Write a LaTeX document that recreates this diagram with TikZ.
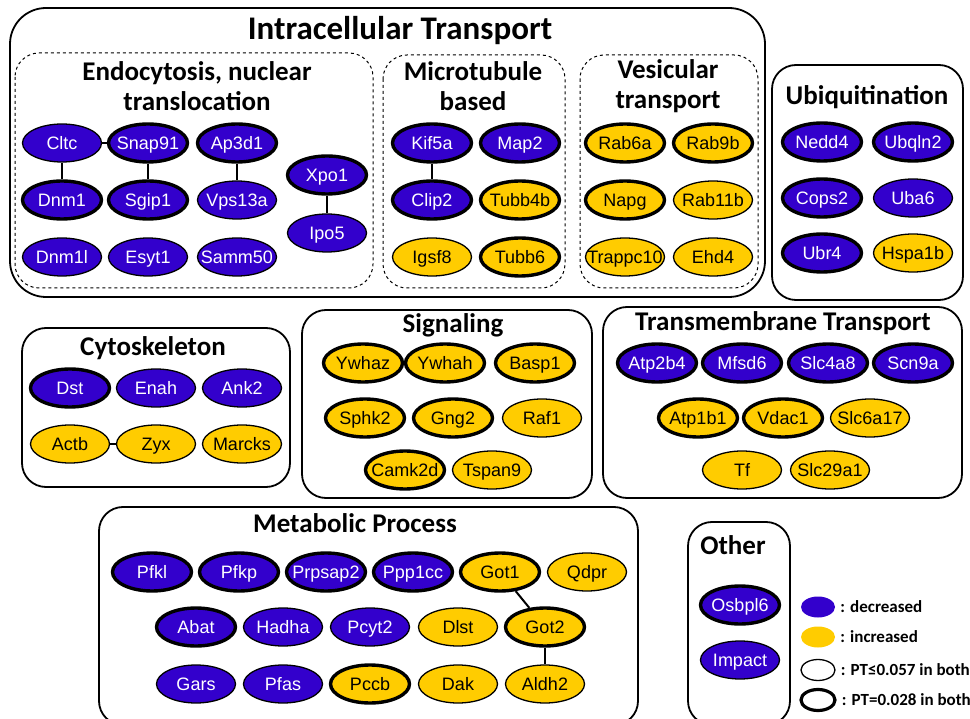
\documentclass[tikz,border=0pt]{standalone}
\usepackage{fontspec}
\setmainfont{Liberation Sans}
\newfontfamily\headfont{Carlito}
\usetikzlibrary{shapes.geometric}

\definecolor{decblue}{RGB}{51,0,204}
\definecolor{incgold}{RGB}{255,204,0}

\tikzset{
  gene/.style={ellipse, draw=black, minimum width=79pt, minimum height=38pt,
    inner sep=0pt, text height=13pt, text depth=0pt, font=\fontsize{18}{18}\selectfont,
    execute at begin node={\hbox to 0pt\bgroup\hss},
    execute at end node={\hss\egroup}},
  decreased/.style={fill=decblue, text=white},
  increased/.style={fill=incgold, text=black},
  pt057/.style={line width=1.3pt},
  pt028/.style={line width=3.4pt},
  link/.style={draw=black, line width=2pt},
  group/.style={draw=black, line width=1.8pt, rounded corners=24pt},
  subgroup/.style={draw=black, line width=1pt, dashed, rounded corners=24pt},
  head/.style={font=\headfont\bfseries\fontsize{33}{33}\selectfont, inner sep=0pt},
  subhead/.style={font=\headfont\bfseries\fontsize{27}{30}\selectfont, align=center, inner sep=0pt},
  keyshape/.style={ellipse, draw=black, minimum width=34pt, minimum height=21pt, inner sep=0pt},
  keytext/.style={font=\headfont\bfseries\fontsize{17}{17}\selectfont, anchor=west, inner sep=0pt}
}

\begin{document}
\begin{tikzpicture}[x=1pt, y=-1pt]
\useasboundingbox (0,0) rectangle (970,719);

% group frames
\draw [group, rounded corners=36pt] (10,8) rectangle (765,297);
\draw [subgroup] (15,53) rectangle (373,288);
\draw [subgroup] (383,55) rectangle (565,288);
\draw [subgroup] (580,55) rectangle (758,288);
\draw [group] (772,65) rectangle (963,300);
\draw [group] (22,328) rectangle (290,487);
\draw [group] (302,310) rectangle (592,498);
\draw [group] (603,307) rectangle (962,498);
\draw [group] (99,507) rectangle (638,725);
\draw [group] (688,522) rectangle (790,725);

% headings
\node [head] (h-intra) at (400,31) {Intracellular Transport};
\node [subhead] (h-endo) at (197,86) {Endocytosis, nuclear\\translocation};
\node [subhead] (h-micro) at (473,86) {Microtubule\\based};
\node [subhead] (h-vesic) at (668,86) {Vesicular\\transport};
\node [subhead] (h-ubiq) at (867,97) {Ubiquitination};
\node [subhead] (h-cyto) at (153,348) {Cytoskeleton};
\node [subhead] (h-sign) at (453,325) {Signaling};
\node [subhead] (h-trans) at (783,323) {Transmembrane Transport};
\node [subhead] (h-metab) at (355,523) {Metabolic Process};
\node [subhead] (h-other) at (733,545) {Other};

% endocytosis, nuclear translocation
\foreach \g/\x/\y/\c/\r in {Cltc/62/143/decreased/pt057, Snap91/148/143/decreased/pt028,
    Ap3d1/237/143/decreased/pt028, Dnm1/62/200/decreased/pt028, Sgip1/148/200/decreased/pt028,
    Vps13a/237/200/decreased/pt057, Dnm1l/62/257/decreased/pt057, Esyt1/148/257/decreased/pt057,
    Samm50/237/257/decreased/pt057, Xpo1/327/175/decreased/pt028, Ipo5/327/233/decreased/pt057}
  \node [gene, \c, \r] (\g) at (\x,\y) {\g};

% microtubule based
\foreach \g/\x/\y/\c/\r in {Kif5a/432/143/decreased/pt028, Map2/520/143/decreased/pt028,
    Clip2/432/200/decreased/pt028, Tubb4b/520/200/increased/pt028,
    Igsf8/432/257/increased/pt057, Tubb6/520/257/increased/pt028}
  \node [gene, \c, \r] (\g) at (\x,\y) {\g};

% vesicular transport
\foreach \g/\x/\y/\c/\r in {Rab6a/625/143/increased/pt028, Rab9b/713/143/increased/pt028,
    Napg/625/200/increased/pt028, Rab11b/713/200/increased/pt057,
    Trappc10/625/257/increased/pt057, Ehd4/713/257/increased/pt057}
  \node [gene, \c, \r] (\g) at (\x,\y) {\g};

% ubiquitination
\foreach \g/\x/\y/\c/\r in {Nedd4/822/142/decreased/pt028, Ubqln2/913/142/decreased/pt028,
    Cops2/822/198/decreased/pt028, Uba6/913/198/decreased/pt057,
    Ubr4/822/253/decreased/pt028, Hspa1b/913/253/increased/pt057}
  \node [gene, \c, \r] (\g) at (\x,\y) {\g};

% cytoskeleton
\foreach \g/\x/\y/\c/\r in {Dst/70/388/decreased/pt028, Enah/156/388/decreased/pt057,
    Ank2/242/388/decreased/pt057, Actb/70/444/increased/pt057,
    Zyx/156/444/increased/pt057, Marcks/242/444/increased/pt057}
  \node [gene, \c, \r] (\g) at (\x,\y) {\g};

% signaling
\foreach \g/\x/\y/\c/\r in {Ywhaz/363/363/increased/pt028, Ywhah/445/363/increased/pt028,
    Basp1/535/363/increased/pt028, Sphk2/365/418/increased/pt028,
    Gng2/453/418/increased/pt028, Raf1/542/418/increased/pt057,
    Camk2d/405/470/increased/pt028, Tspan9/492/470/increased/pt057}
  \node [gene, \c, \r] (\g) at (\x,\y) {\g};

% transmembrane transport
\foreach \g/\x/\y/\c/\r in {Atp2b4/657/363/decreased/pt028, Mfsd6/742/363/decreased/pt028,
    Slc4a8/828/363/decreased/pt028, Scn9a/913/363/decreased/pt028,
    Atp1b1/698/418/increased/pt028, Vdac1/783/418/increased/pt028,
    Slc6a17/870/418/increased/pt057, Tf/742/470/increased/pt057,
    Slc29a1/830/470/increased/pt057}
  \node [gene, \c, \r] (\g) at (\x,\y) {\g};

% metabolic process
\foreach \g/\x/\y/\c/\r in {Pfkl/152/572/decreased/pt028, Pfkp/239/572/decreased/pt028,
    Prpsap2/326/572/decreased/pt028, Ppp1cc/413/572/decreased/pt028,
    Got1/500/572/increased/pt028, Qdpr/587/572/increased/pt057,
    Abat/196/627/decreased/pt028, Hadha/283/627/decreased/pt057,
    Pcyt2/370/627/decreased/pt057, Dlst/458/627/increased/pt057,
    Got2/545/627/increased/pt028, Gars/196/684/decreased/pt057,
    Pfas/283/684/decreased/pt057, Pccb/370/684/increased/pt028,
    Dak/458/684/increased/pt057, Aldh2/545/684/increased/pt057}
  \node [gene, \c, \r] (\g) at (\x,\y) {\g};

% other
\foreach \g/\x/\y/\c/\r in {Osbpl6/740/605/decreased/pt028, Impact/740/660/decreased/pt057}
  \node [gene, \c, \r] (\g) at (\x,\y) {\g};

% interactions
\foreach \a/\b in {Cltc/Snap91, Cltc/Dnm1, Snap91/Sgip1, Ap3d1/Vps13a, Xpo1/Ipo5,
    Kif5a/Clip2, Actb/Zyx, Ywhaz/Ywhah, Got1/Got2, Got2/Aldh2}
  \draw [link] (\a) -- (\b);

% legend
\node [keyshape, decreased, draw=none] (key-dec) at (818,607) {};
\node [keyshape, increased, draw=none] (key-inc) at (818,637) {};
\node [keyshape, line width=1.3pt] (key-057) at (818,670) {};
\node [keyshape, line width=3.2pt] (key-028) at (818,700) {};
\foreach \k/\l in {dec/{: decreased}, inc/{: increased}, 057/{: PT≤0.057 in both}, 028/{: PT=0.028 in both}}
  \node [keytext] (t-\k) at ([xshift=5pt]key-\k.east) {\l};

\end{tikzpicture}
\end{document}
